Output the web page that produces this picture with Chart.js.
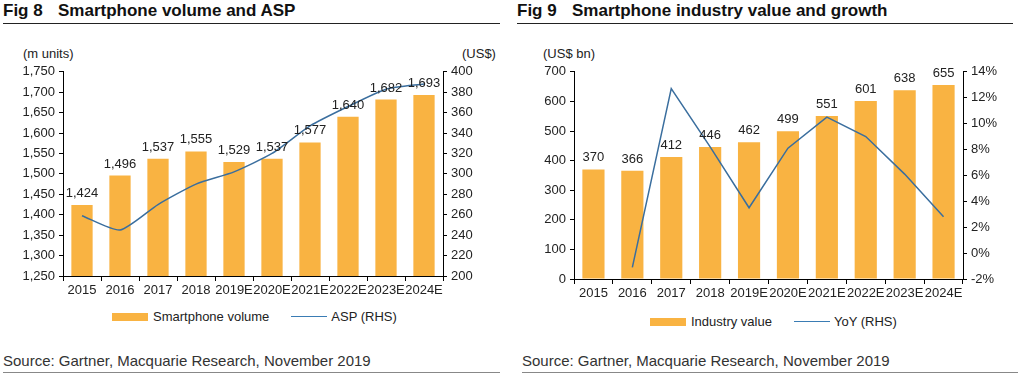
<!DOCTYPE html>
<html>
<head>
<meta charset="utf-8">
<script src="https://cdn.jsdelivr.net/npm/chart.js@4.4.0/dist/chart.umd.min.js"></script>
<style>
  html, body { margin: 0; padding: 0; background: #fff; }
  body { width: 1024px; height: 379px; position: relative; overflow: hidden;
         font-family: "Liberation Sans", Arial, sans-serif; color: #222; }
  .abs { position: absolute; white-space: nowrap; }
  .title { font-weight: bold; font-size: 17px; color: #111; top: 1px; }
  .title span { display: inline-block; width: 55px; }
  .rule { position: absolute; height: 0; }
  .unit { font-size: 13px; top: 46px; }
  .legend { font-size: 13px; display: flex; align-items: center; }
  .legend .box { width: 36px; height: 8px; background: #F9B342; margin-right: 5px; }
  .legend .ln { width: 36px; height: 0; border-top: 1.5px solid #3A7CB4; margin: 0 4px 0 22px; }
  .source { font-size: 15px; color: #333; top: 352px; }
  canvas { position: absolute; }
</style>
</head>
<body>
<div class="abs title" style="left:3px"><span>Fig 8</span>Smartphone volume and ASP</div>
<div class="rule" style="left:3px; width:497px; top:23px; border-top:1.5px solid #222"></div>
<div class="abs title" style="left:517px"><span>Fig 9</span>Smartphone industry value and growth</div>
<div class="rule" style="left:517px; width:496px; top:23px; border-top:1.5px solid #222"></div>

<div class="abs unit" style="left:23px">(m units)</div>
<div class="abs unit" style="left:462px">(US$)</div>
<div class="abs unit" style="left:543px">(US$ bn)</div>

<canvas id="volChart" width="512" height="240" style="left:0; top:60px"></canvas>
<canvas id="valChart" width="512" height="243" style="left:512px; top:60px"></canvas>

<div class="abs legend" style="left:112px; top:309px"><div class="box"></div>Smartphone volume<div class="ln"></div>ASP (RHS)</div>
<div class="abs legend" style="left:650px; top:314px"><div class="box"></div>Industry value<div class="ln"></div>YoY (RHS)</div>

<div class="abs source" style="left:3px">Source: Gartner, Macquarie Research, November 2019</div>
<div class="rule" style="left:3px; width:497px; top:372px; border-top:1px solid #888"></div>
<div class="abs source" style="left:522px">Source: Gartner, Macquarie Research, November 2019</div>
<div class="rule" style="left:522px; width:496px; top:372px; border-top:1px solid #888"></div>

<script>
// data
const years = ['2015', '2016', '2017', '2018', '2019E', '2020E', '2021E', '2022E', '2023E', '2024E'];
const volume = [1424, 1496, 1537, 1555, 1529, 1537, 1577, 1640, 1682, 1693];
const asp = [259, 245, 270, 290, 302, 320, 347, 366, 383, 388];
const industryValue = [370, 366, 412, 446, 462, 499, 551, 601, 638, 655];
const yoy = [null, -1.1, 12.7, 8.2, 3.5, 8.1, 10.5, 9.0, 6.1, 2.8];

const BAR = '#F9B342';
const LINE = '#3A6E9E';
const FONT = { family: '"Liberation Sans", Arial, sans-serif', size: 13 };

// bar value labels above each bar
const barLabels = {
  id: 'barLabels',
  afterDatasetsDraw(chart, args, opts) {
    const ctx = chart.ctx;
    const meta = chart.getDatasetMeta(opts.index);
    const data = chart.data.datasets[opts.index].data;
    ctx.save();
    ctx.font = '13px "Liberation Sans", Arial, sans-serif';
    ctx.fillStyle = '#222';
    ctx.textAlign = 'center';
    ctx.textBaseline = 'alphabetic';
    meta.data.forEach((bar, i) => {
      ctx.fillText(opts.format(data[i]), bar.x, bar.y - 8);
    });
    ctx.restore();
  }
};

function axis(extra, width) {
  return Object.assign({
    grid: { drawOnChartArea: false, drawTicks: true, tickLength: 4, color: '#000' },
    border: { color: '#000', width: 1 },
    ticks: { font: FONT, color: '#222', padding: 4, autoSkip: false },
    afterFit: (s) => { s.width = width; }
  }, extra);
}

function xAxis(height) {
  return {
    grid: { drawOnChartArea: false, drawTicks: true, tickLength: 5, color: '#000', offset: true },
    border: { color: '#000', width: 1 },
    ticks: { font: FONT, color: '#222', autoSkip: false, maxRotation: 0, minRotation: 0, padding: 2 },
    afterFit: (s) => { s.height = height; }
  };
}

new Chart(document.getElementById('volChart'), {
  type: 'bar',
  data: {
    labels: years,
    datasets: [
      { type: 'line', label: 'ASP (RHS)', data: asp, yAxisID: 'y1', borderColor: LINE,
        borderWidth: 1.5, pointRadius: 0, tension: 0.2, order: 0 },
      { label: 'Smartphone volume', data: volume, yAxisID: 'y', backgroundColor: BAR,
        barPercentage: 0.56, categoryPercentage: 1, order: 1 }
    ]
  },
  options: {
    responsive: false,
    animation: false,
    devicePixelRatio: 1,
    layout: { padding: { top: 9, left: 0, right: 0, bottom: 0 } },
    plugins: {
      legend: { display: false },
      tooltip: { enabled: false },
      barLabels: { index: 1, format: v => v.toLocaleString('en-US') }
    },
    scales: {
      x: xAxis(24),
      y: axis({ position: 'left', min: 1250, max: 1750,
        ticks: { font: FONT, color: '#222', padding: 4, stepSize: 50, callback: v => v.toLocaleString('en-US') } }, 63),
      y1: axis({ position: 'right', min: 200, max: 400,
        ticks: { font: FONT, color: '#222', padding: 4, stepSize: 20 } }, 69)
    }
  },
  plugins: [barLabels]
});

new Chart(document.getElementById('valChart'), {
  type: 'bar',
  data: {
    labels: years,
    datasets: [
      { type: 'line', label: 'YoY (RHS)', data: yoy, yAxisID: 'y1', borderColor: LINE,
        borderWidth: 1.5, pointRadius: 0, tension: 0, order: 0 },
      { label: 'Industry value', data: industryValue, yAxisID: 'y', backgroundColor: BAR,
        barPercentage: 0.57, categoryPercentage: 1, order: 1 }
    ]
  },
  options: {
    responsive: false,
    animation: false,
    devicePixelRatio: 1,
    layout: { padding: { top: 9, left: 0, right: 0, bottom: 0 } },
    plugins: {
      legend: { display: false },
      tooltip: { enabled: false },
      barLabels: { index: 1, format: v => String(v) }
    },
    scales: {
      x: xAxis(24),
      y: axis({ position: 'left', min: 0, max: 700,
        ticks: { font: FONT, color: '#222', padding: 4, stepSize: 100 } }, 62),
      y1: axis({ position: 'right', min: -2, max: 14,
        ticks: { font: FONT, color: '#222', padding: 4, stepSize: 2, callback: v => v + '%' } }, 61)
    }
  },
  plugins: [barLabels]
});
</script>
</body>
</html>
